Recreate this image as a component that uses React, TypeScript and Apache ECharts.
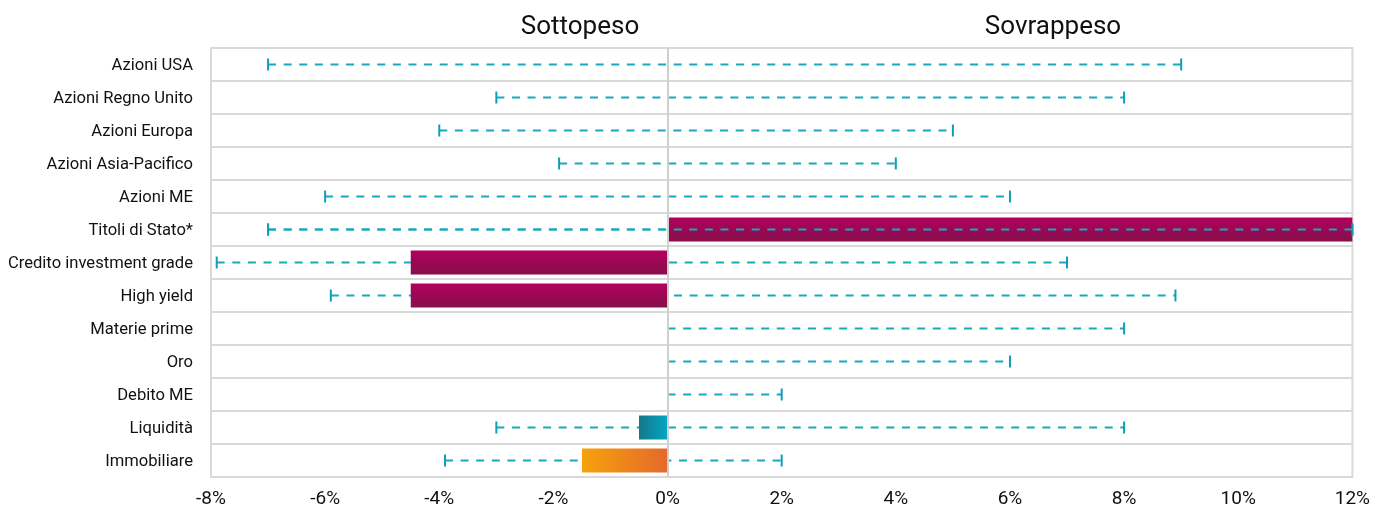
import React, { useEffect, useRef } from "react";
import * as echarts from "echarts";

const categories = [
  "Azioni USA",
  "Azioni Regno Unito",
  "Azioni Europa",
  "Azioni Asia-Pacifico",
  "Azioni ME",
  "Titoli di Stato*",
  "Credito investment grade",
  "High yield",
  "Materie prime",
  "Oro",
  "Debito ME",
  "Liquidità",
  "Immobiliare",
];

// current position (bar)
const positions = [null, null, null, null, null, 12, -4.5, -4.5, null, null, null, -0.5, -1.5];
// range lower / upper (dashed range)
const rangeLow = [-7, -3, -4, -1.9, -6, -7, -7.9, -5.9, 0, 0, 0, -3, -3.9];
const rangeHigh = [9, 8, 5, 4, 6, 12, 7, 8.9, 8, 6, 2, 8, 2];

const xTicks = { min: -8, max: 12, interval: 2 };
const headers = ["Sottopeso", "Sovrappeso"];

const RANGE_COLOR = "#19a8c0";
const FONT = "Roboto, 'Noto Sans', sans-serif";

function barColor(i: number, v: number) {
  if (categories[i] === "Liquidità") {
    return new echarts.graphic.LinearGradient(0, 0, 1, 0, [
      { offset: 0, color: "#147689" },
      { offset: 1, color: "#03a7c3" },
    ]);
  }
  if (categories[i] === "Immobiliare") {
    return new echarts.graphic.LinearGradient(0, 0, 1, 0, [
      { offset: 0, color: "#f7a10b" },
      { offset: 1, color: "#e4692c" },
    ]);
  }
  return new echarts.graphic.LinearGradient(0, 0, 0, 1, [
    { offset: 0, color: "#b3005d" },
    { offset: 1, color: "#850f4a" },
  ]);
}

function renderRange(params: any, api: any) {
  const cat = api.value(0);
  const lo = api.value(1);
  const hi = api.value(2);
  const p1 = api.coord([lo, cat]);
  const p2 = api.coord([hi, cat]);
  const h = 12;
  const children: any[] = [
    {
      type: "line",
      shape: { x1: p1[0], y1: p1[1], x2: p2[0], y2: p2[1] },
      style: { stroke: RANGE_COLOR, lineWidth: 2.2, lineDash: [8, 7.6] },
    },
  ];
  if (lo !== 0) {
    children.push({
      type: "line",
      shape: { x1: p1[0], y1: p1[1] - h / 2, x2: p1[0], y2: p1[1] + h / 2 },
      style: { stroke: "#0e9fb8", lineWidth: 2 },
    });
  }
  if (hi !== 0) {
    children.push({
      type: "line",
      shape: { x1: p2[0], y1: p2[1] - h / 2, x2: p2[0], y2: p2[1] + h / 2 },
      style: { stroke: "#0e9fb8", lineWidth: 2 },
    });
  }
  return { type: "group", children };
}

export default function App() {
  const ref = useRef<HTMLDivElement>(null);
  useEffect(() => {
    if (!ref.current) return;
    const chart = echarts.init(ref.current, undefined, { renderer: "svg" });
    const rangeData = categories.map((_, i) => [i, rangeLow[i], rangeHigh[i]]);
    const overlayData = rangeData.filter((_, i) => (positions[i] ?? 0) > 0);
    chart.setOption({
      animation: false,
      textStyle: { fontFamily: FONT },
      grid: {
        left: 211,
        right: 17,
        top: 48,
        bottom: 33,
        show: true,
        borderColor: "#d9d9d9",
        borderWidth: 2,
      },
      graphic: [
        {
          type: "text",
          x: 580,
          y: 25,
          style: {
            text: headers[0],
            fontSize: 26,
            fontFamily: FONT,
            fill: "#111",
            align: "center",
            verticalAlign: "middle",
          },
        },
        {
          type: "text",
          x: 1053,
          y: 25,
          style: {
            text: headers[1],
            fontSize: 26,
            fontFamily: FONT,
            fill: "#111",
            align: "center",
            verticalAlign: "middle",
          },
        },
      ],
      xAxis: {
        type: "value",
        min: xTicks.min,
        max: xTicks.max,
        interval: xTicks.interval,
        axisLine: { show: false },
        axisTick: { show: false },
        splitLine: { show: false },
        axisLabel: {
          formatter: "{value}%",
          fontSize: 19,
          color: "#111",
          margin: 11,
          fontFamily: FONT,
        },
      },
      yAxis: {
        type: "category",
        data: categories,
        inverse: true,
        axisLine: { show: false },
        axisTick: { show: false },
        splitLine: { show: true, lineStyle: { color: "#d9d9d9", width: 2 } },
        axisLabel: { fontSize: 16.6, color: "#111", margin: 18, fontFamily: FONT },
      },
      series: [
        {
          type: "custom",
          name: "range",
          z: 1,
          renderItem: renderRange,
          encode: { x: [1, 2], y: 0 },
          data: rangeData,
        },
        {
          type: "bar",
          name: "posizione",
          z: 2,
          barWidth: 24,
          data: positions.map((v, i) =>
            v === null ? null : { value: v, itemStyle: { color: barColor(i, v) } }
          ),
          markLine: {
            silent: true,
            symbol: "none",
            label: { show: false },
            lineStyle: { color: "#cfcfcf", width: 2, type: "solid" },
            data: [{ xAxis: 0 }],
          },
        },
        {
          type: "custom",
          name: "range-overlay",
          z: 3,
          renderItem: renderRange,
          encode: { x: [1, 2], y: 0 },
          data: overlayData,
        },
      ],
    });
    return () => chart.dispose();
  }, []);
  return (
    <div
      ref={ref}
      style={{ position: "fixed", left: 0, top: 0, width: 1373, height: 510 }}
    />
  );
}
